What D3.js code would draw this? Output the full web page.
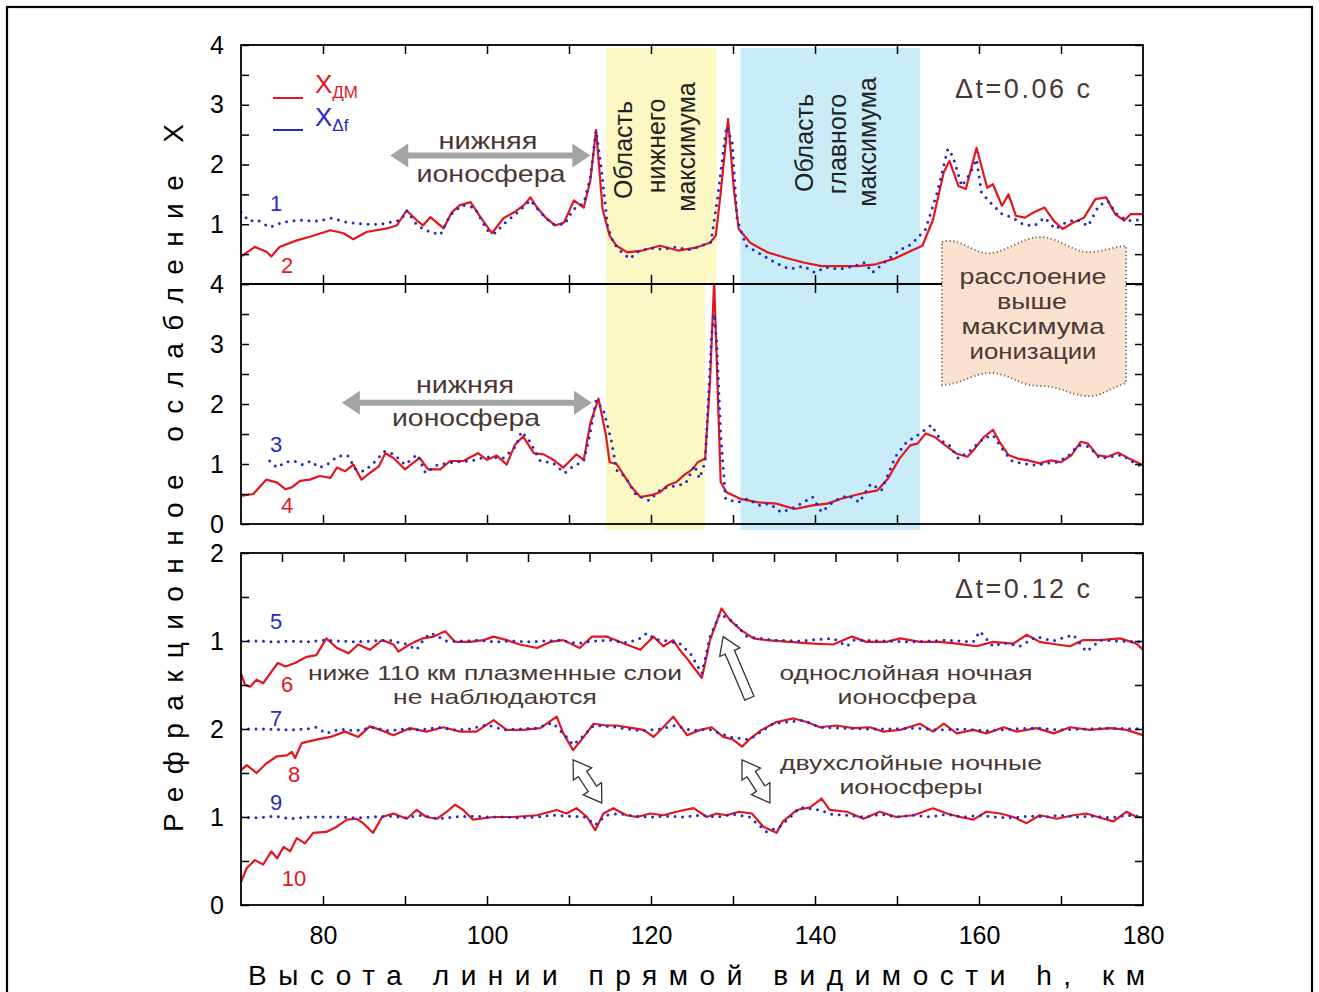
<!DOCTYPE html>
<html lang="ru">
<head>
<meta charset="utf-8">
<title>Рефракционное ослабление X</title>
<script src="https://d3js.org/d3.v7.min.js"></script>
<style>
  body { margin: 0; background: #fff; }
  text { font-family: "Liberation Sans", Arial, sans-serif; }
</style>
</head>
<body>
<div id="chart"></div>
<script>
// ---- data (h in km, X) ----
// top panel, dt = 0.06 s
var curve1 = [[70,1.2],[71,1.05],[72,1.07],[73.5,0.95],[75,1.03],[77,1.07],[79,1.05],[81,1.1],[83,1.03],[85,1.0],[87,1.0],[88,1.03],[89.5,1.07],[90.2,1.23],[91.5,0.98],[92.5,0.9],[94.3,0.82],[95.5,1.15],[97,1.32],[98.5,1.28],[100,0.9],[101,0.85],[102,1.0],[104,1.23],[105.3,1.4],[106.5,1.2],[108,1.0],[109.5,1.0],[110.5,1.25],[111.8,1.35],[112.6,1.78],[113.3,2.57],[113.9,1.98],[114.7,0.97],[115.4,0.69],[116.3,0.55],[117.4,0.42],[118.5,0.55],[120,0.6],[121.5,0.58],[123,0.62],[124.5,0.57],[126,0.63],[127.3,0.7],[128.1,1.42],[129.2,2.64],[129.9,2.37],[130.5,1.08],[131.6,0.64],[133.4,0.5],[135.1,0.36],[136.9,0.25],[138.6,0.3],[140,0.19],[141.3,0.28],[143,0.25],[144.8,0.3],[146.1,0.36],[147,0.19],[148.7,0.39],[150.5,0.58],[151.8,0.67],[153.5,0.92],[154.9,1.53],[156.2,2.26],[156.8,2.14],[157.9,1.64],[159,1.87],[159.7,2.09],[160.3,1.53],[161.4,1.36],[162.8,1.17],[164.1,1.11],[165.4,1.0],[166.7,0.97],[168,1.11],[169.3,0.92],[170.6,1.03],[171.9,1.08],[173.3,0.97],[174.6,1.31],[175.7,1.39],[176.8,1.17],[178.1,1.06],[180,1.08]];
var curve2 = [[70,0.46],[71.7,0.62],[73.1,0.54],[73.7,0.46],[74.7,0.62],[76.8,0.73],[78.4,0.79],[80.9,0.9],[82.5,0.85],[83.7,0.75],[85.3,0.87],[87.8,0.93],[89,0.98],[90.2,1.23],[91.4,1.07],[92.2,0.98],[93.1,1.12],[94.7,0.93],[95.7,1.2],[96.7,1.32],[98,1.37],[99.2,1.12],[100.6,0.85],[102,1.1],[103.3,1.2],[104.5,1.32],[105.3,1.45],[106.1,1.28],[107.1,1.12],[108.3,0.98],[109.4,1.03],[110.6,1.4],[111.8,1.28],[112.6,1.73],[113.3,2.58],[114.1,1.25],[114.95,0.81],[115.8,0.64],[117.1,0.53],[118.9,0.56],[121.1,0.64],[123.3,0.56],[125.5,0.61],[127.2,0.69],[127.9,0.81],[128.5,1.53],[129.4,2.76],[130.1,1.59],[130.7,0.92],[132.1,0.69],[134.2,0.53],[136.4,0.44],[138.6,0.36],[140.8,0.3],[143,0.3],[145.2,0.3],[147.4,0.33],[149.6,0.42],[151.8,0.56],[153.1,0.64],[154.4,1.08],[155.7,1.87],[156.4,2.06],[157.5,1.64],[158.4,1.59],[159.7,2.28],[161,1.61],[161.7,1.67],[162.8,1.31],[163.6,1.5],[164.5,1.14],[165.6,1.11],[166.7,1.2],[168,1.28],[169.1,1.06],[170.2,0.92],[171.5,1.03],[172.8,1.11],[174.2,1.42],[175.5,1.45],[176.6,1.17],[177.7,1.06],[178.5,1.17],[180,1.17]];
// middle panel
var curve3 = [[73.5,1.05],[74.4,0.94],[75.4,1.03],[76.5,1.05],[77.5,0.99],[78.5,1.05],[79.5,0.94],[80.5,0.99],[81.8,1.13],[83,1.14],[84,0.91],[85,0.88],[86,0.99],[87.5,1.21],[88.7,1.16],[90,0.99],[91.5,1.16],[92.5,0.85],[94,0.99],[96,1.03],[98,1.05],[100,1.12],[102,1.1],[103.5,1.29],[104.2,1.54],[105.2,1.38],[106.5,1.05],[108,1.02],[109.5,0.85],[110.5,0.96],[111.8,1.05],[112.5,1.46],[113.3,2.06],[114.2,1.9],[115.2,1.37],[115.8,0.9],[116.9,0.78],[118.2,0.48],[119.8,0.39],[121.3,0.59],[123.1,0.64],[124.2,0.67],[125.3,0.98],[125.9,0.76],[126.6,1.03],[127.4,3.16],[127.7,3.5],[128,3.05],[128.5,1.48],[129.1,0.42],[130.5,0.36],[131.8,0.42],[133.1,0.31],[134.5,0.34],[135.8,0.2],[137.1,0.25],[138.4,0.35],[139.7,0.45],[140.8,0.2],[142.4,0.39],[144.1,0.48],[145.4,0.36],[146.8,0.67],[148.1,0.56],[149.8,1.12],[151.2,1.37],[152.5,1.48],[154.2,1.65],[155.3,1.4],[156.4,1.31],[157.5,1.09],[159,1.23],[160.6,1.43],[161.7,1.48],[162.8,1.26],[163.9,1.06],[165.2,1.01],[167,0.98],[168.2,1.01],[169.5,1.03],[170.8,1.12],[172.1,1.31],[173.4,1.29],[174.8,1.09],[176.1,1.12],[177.4,1.15],[178.8,1.03],[180,0.95]];
var curve4 = [[70,0.47],[71.5,0.5],[73.1,0.74],[74.4,0.69],[75.4,0.58],[76.2,0.61],[77.2,0.72],[78.4,0.74],[79.6,0.8],[80.9,0.77],[81.7,0.94],[82.7,0.88],[83.7,0.99],[84.7,0.74],[85.7,0.85],[86.8,0.96],[87.6,1.18],[88.6,1.1],[90,0.91],[91,1.02],[91.8,1.1],[92.8,0.91],[94.3,0.91],[95.5,1.05],[97.1,1.05],[98.9,1.18],[100,1.07],[101.2,1.14],[102.4,0.99],[103.4,1.32],[104.4,1.46],[105.7,1.18],[106.9,1.16],[108.1,1.07],[109.3,0.94],[110.1,1.05],[110.9,1.16],[111.8,1.07],[112.6,1.68],[113.6,2.09],[114.5,1.48],[114.95,1.03],[115.8,1.0],[116.7,0.81],[117.6,0.62],[118.7,0.45],[120,0.48],[121.1,0.53],[122,0.64],[123.1,0.7],[124,0.81],[125.1,0.92],[125.7,1.03],[126.6,1.09],[127.2,2.38],[127.7,4.05],[128.1,2.38],[128.5,0.7],[129.2,0.53],[130.9,0.42],[133.1,0.36],[135.3,0.34],[137.5,0.25],[139.7,0.31],[141.5,0.34],[143.2,0.42],[145.4,0.5],[147.6,0.56],[148.9,0.76],[150.3,1.09],[151.6,1.31],[152.5,1.34],[153.5,1.51],[154.6,1.45],[155.9,1.31],[157.3,1.17],[158.6,1.12],[159.5,1.26],[160.6,1.45],[161.7,1.57],[162.5,1.37],[163.6,1.15],[164.7,1.09],[166,1.06],[167.4,1.01],[168.7,1.06],[170,1.03],[171.3,1.15],[172.4,1.37],[173.3,1.34],[174.4,1.15],[175.7,1.12],[177,1.19],[178.3,1.09],[180,0.98]];
// bottom panel, dt = 0.12 s (curves shifted by +2 and +1)
var curve5 = [[70,3.0],[72,3.0],[74,2.99],[76,3.0],[78,2.99],[80,3.01],[82,3.0],[84,2.99],[86,3.0],[88,3.01],[90,2.97],[91.4,2.9],[92.3,3.02],[93.1,3.09],[93.9,3.06],[95,3.0],[97,3.0],[99,3.01],[101,2.99],[103,3.0],[105,2.99],[107,3.0],[109,3.01],[111,2.97],[113,3.0],[115,3.01],[117,2.98],[118.5,3.02],[119.5,3.09],[120.5,3.02],[122,3.0],[123.5,2.97],[124.8,2.86],[126.2,2.63],[127.2,3.05],[128.4,3.31],[130,3.22],[131.7,3.05],[134.9,3.01],[138,3.0],[142.2,3.03],[143.9,2.94],[144.7,3.01],[148,3.0],[152,2.99],[156.1,3.01],[159.3,2.99],[160.1,3.11],[161.7,2.94],[163,2.98],[165,2.94],[167,3.05],[169,3.0],[171.5,3.07],[172.5,2.95],[173.1,2.88],[174.8,3.01],[177,3.0],[180,2.99]];
var curve6 = [[70,2.63],[70.5,2.5],[71.1,2.48],[71.9,2.56],[72.7,2.52],[73.7,2.65],[74.5,2.75],[75.4,2.71],[76.6,2.75],[78,2.82],[79.2,2.84],[80.4,3.03],[81.7,2.92],[83.1,2.86],[84.3,2.96],[85.7,2.9],[87.2,3.01],[88.6,2.96],[89.2,2.88],[90.2,2.94],[91.2,2.99],[92.2,3.03],[93.5,3.05],[94.9,3.11],[96.1,2.99],[97.9,2.99],[99.6,3.01],[100.8,3.05],[102.4,3.01],[104,2.96],[106.1,2.92],[107.7,2.99],[109.3,3.01],[111.3,2.92],[112.8,3.05],[114.6,3.05],[117,2.96],[118.7,2.9],[120.3,3.05],[121.5,2.94],[122.7,3.01],[123.5,2.9],[124.4,2.8],[124.8,2.75],[126.2,2.58],[127.2,3.01],[128.6,3.37],[129.6,3.24],[130.9,3.13],[132.5,3.03],[134.1,3.01],[136.9,2.99],[139.8,2.97],[142.2,2.96],[144.5,3.05],[146.3,2.99],[148.7,2.99],[150.4,3.03],[152.8,2.99],[155.2,2.99],[157.3,2.97],[159.7,2.94],[161.7,2.99],[164.2,2.97],[165.8,3.07],[167.4,2.99],[169.5,2.96],[171.1,2.94],[172.7,3.01],[174.8,3.01],[177.2,3.03],[179.2,2.97],[180,2.9]];
var curve7 = [[70,2.0],[73,2.0],[76,1.99],[78,2.0],[79.2,2.02],[80.4,1.95],[82,2.0],[84,1.98],[86,2.02],[88,1.98],[90,2.0],[92,1.99],[94,2.02],[96,1.99],[98,2.0],[100,2.05],[102,1.99],[104,2.0],[106,2.01],[108,2.07],[109.7,1.91],[110.5,1.82],[111.5,1.9],[113,2.04],[115,2.03],[117,2.0],[119,1.98],[121,2.0],[123,2.04],[125,1.98],[127,2.0],[129.6,1.91],[132,1.88],[134.9,2.06],[136.5,2.08],[138.6,2.1],[140.5,2.02],[143,2.01],[146,2.0],[149,2.0],[152,2.01],[155,1.99],[158,2.0],[161,1.98],[164,2.0],[167,2.01],[170,1.99],[173,2.0],[176,2.01],[180,2.0]];
var curve8 = [[70,1.53],[70.7,1.59],[71.9,1.5],[73.1,1.61],[74.4,1.69],[75.6,1.7],[76.2,1.74],[76.6,1.67],[77.4,1.84],[79.2,1.88],[80.9,1.91],[82.7,1.97],[84.3,1.91],[85.7,2.03],[87,1.99],[88.6,1.93],[90.6,2.01],[92.6,1.97],[94.7,2.02],[96.7,1.97],[98.7,1.97],[100.8,2.1],[102.4,1.99],[104.4,1.99],[106.5,2.01],[108.5,2.14],[109.3,1.95],[110.5,1.76],[111.8,1.91],[113,2.06],[114.6,2.04],[115.8,2.04],[117.8,2.01],[119.1,1.99],[120.3,1.91],[121.5,2.02],[122.7,2.14],[124.4,1.93],[126,1.99],[127.4,2.02],[128.8,1.91],[130,1.88],[131.1,1.8],[132.1,1.89],[133.5,1.99],[135.3,2.08],[137.4,2.12],[139,2.08],[140.6,2.02],[142.6,2.04],[144.7,2.01],[146.7,2.02],[148.3,1.97],[150.4,1.99],[152.8,2.06],[154.4,1.97],[155.7,2.06],[157.3,1.95],[159.3,1.99],[160.9,1.95],[163,2.02],[164.6,1.97],[167,2.01],[169.1,1.95],[171.1,2.02],[173.5,1.99],[176,2.01],[178,1.99],[180,1.93]];
var curve9 = [[70,1.0],[72,0.99],[74,1.01],[76,0.98],[78,1.0],[80,1.0],[82,1.0],[84,0.99],[86,1.0],[88,1.01],[90,0.99],[92,1.02],[94,0.98],[96,1.0],[98,1.01],[100,1.0],[102,1.0],[104,0.99],[106,1.0],[108,1.02],[110,1.01],[112,1.0],[113.2,0.91],[114.5,1.02],[116,1.04],[118,1.01],[120,1.0],[122,1.01],[124,1.0],[126,1.02],[128,1.0],[130,1.03],[132,1.0],[134.1,0.83],[135.7,0.89],[137,1.0],[138.2,1.11],[140.6,1.08],[142,1.03],[144,1.02],[146,1.0],[148,1.03],[150,1.0],[152,1.02],[154,1.0],[156,1.03],[158,1.0],[160,1.02],[162,1.0],[164,0.99],[166,1.01],[168,1.0],[170,1.02],[172,1.0],[174,1.01],[176,0.99],[178,1.02],[180,1.0]];
var curve10 = [[70,0.26],[70.7,0.42],[71.7,0.51],[72.7,0.46],[73.7,0.61],[74.4,0.53],[75.2,0.66],[76,0.61],[76.8,0.76],[77.8,0.7],[78.8,0.82],[80.4,0.83],[81.7,0.89],[82.9,0.97],[84.1,0.98],[84.9,0.93],[86.1,0.82],[87.2,1.0],[88.6,1.04],[90.2,0.98],[91.4,1.08],[92.6,1.0],[93.9,0.98],[95.1,1.06],[96.1,1.14],[97.1,1.08],[98.3,0.97],[100.8,1.0],[103.2,1.0],[106.1,1.02],[108.5,1.08],[109.7,1.04],[110.9,1.1],[112.2,1.0],[113.2,0.85],[114.2,1.04],[115.4,1.1],[117,1.02],[118.3,1.0],[119.9,1.04],[121.5,1.02],[123.1,1.06],[125.2,1.1],[126.8,1.0],[128,1.04],[129.2,1.02],[130.7,1.06],[132.3,1.04],[133.7,0.89],[135.3,0.82],[136.1,0.95],[137.8,1.08],[139.4,1.11],[140.8,1.21],[141.8,1.08],[143.9,1.06],[145.9,0.98],[147.9,1.06],[149.9,1.0],[152,1.02],[154.4,1.1],[156.1,1.04],[157.7,1.0],[159.3,0.97],[160.9,1.06],[162.6,1.04],[164.2,1.0],[165.8,0.93],[167.4,1.02],[169.5,0.98],[171.5,1.02],[173.1,1.04],[175.2,0.98],[176.4,0.95],[178,1.06],[179.2,1.0],[180,1.0]];

// shaded regions [h start, h end]
var lowerMaxTop = [114.5, 128.0];
var lowerMaxMid = [114.5, 126.6];
var mainMax = [130.9, 152.8];

// ticks
var xLabelTicks = [80, 100, 120, 140, 160, 180];
var xMinorTicks = [80, 90, 100, 110, 120, 130, 140, 150, 160, 170];
var xTopTicksBot = [75, 82.5, 90, 97.5, 105, 112.5, 120, 127.5, 135, 142.5, 150, 157.5, 165, 172.5];
var yMajor = [0, 1, 2, 3, 4];
var yMinor = [0.5, 1.5, 2.5, 3.5];
var topLabels = ["", "1", "2", "3", "4"];
var midLabels = ["0", "1", "2", "3", "4"];
var botLabels = ["0", "1", "2", "1", "2"];

var W = 1319, H = 992;
var RED = "#e3161f", BLUE = "#2a2ac4", INK = "#4b3731";

var svg = d3.select("#chart").append("svg")
    .attr("width", W)
    .attr("height", H);

svg.append("rect").attr("width", W).attr("height", H).attr("fill", "#fff");

// outer frame
svg.append("rect")
    .attr("x", 7).attr("y", 7)
    .attr("width", 1305).attr("height", 1000)
    .attr("fill", "none").attr("stroke", "#000").attr("stroke-width", 2.2);

var xScale = d3.scaleLinear().domain([70, 180]).range([241, 1143]);
var yTop = d3.scaleLinear().domain([0, 4]).range([284, 45]);
var yMid = d3.scaleLinear().domain([0, 4]).range([524, 284]);
var yBot = d3.scaleLinear().domain([0, 4]).range([905, 553]);

// clip paths for each panel
var defs = svg.append("defs");
[["clipTop", yTop], ["clipMid", yMid], ["clipBot", yBot]].forEach(function (c) {
    defs.append("clipPath").attr("id", c[0]).append("rect")
        .attr("x", xScale(70)).attr("y", c[1](4) - 1)
        .attr("width", xScale(180) - xScale(70))
        .attr("height", c[1](0) - c[1](4) + 2);
});

// shaded bands
function band(range, yTopPx, yBotPx, color) {
    svg.append("rect")
        .attr("x", xScale(range[0]))
        .attr("y", yTopPx)
        .attr("width", xScale(range[1]) - xScale(range[0]))
        .attr("height", yBotPx - yTopPx)
        .attr("fill", color);
}
band(lowerMaxTop, yTop(3.95), yTop(0), "#fcf8c3");
band(mainMax, yTop(3.95), yTop(0), "#c9ecf9");
band(lowerMaxMid, yMid(4), yMid(-0.1), "#fcf8c3");
band(mainMax, yMid(4), yMid(-0.1), "#c9ecf9");

// curves
function redLine(data, y, clip) {
    var line = d3.line().x(function (d) { return xScale(d[0]); }).y(function (d) { return y(d[1]); });
    svg.append("path").datum(data)
        .attr("clip-path", "url(#" + clip + ")")
        .attr("d", line)
        .attr("fill", "none")
        .attr("stroke", RED)
        .attr("stroke-width", 2.2)
        .attr("stroke-linejoin", "round");
}
function blueDots(data, y, clip) {
    var line = d3.line().x(function (d) { return xScale(d[0]); }).y(function (d) { return y(d[1]); });
    svg.append("path").datum(data)
        .attr("clip-path", "url(#" + clip + ")")
        .attr("d", line)
        .attr("fill", "none")
        .attr("stroke", BLUE)
        .attr("stroke-width", 3)
        .attr("stroke-linecap", "round")
        .attr("stroke-dasharray", "0,7.5");
}
redLine(curve2, yTop, "clipTop"); blueDots(curve1, yTop, "clipTop");
redLine(curve4, yMid, "clipMid"); blueDots(curve3, yMid, "clipMid");
redLine(curve6, yBot, "clipBot"); blueDots(curve5, yBot, "clipBot");
redLine(curve8, yBot, "clipBot"); blueDots(curve7, yBot, "clipBot");
redLine(curve10, yBot, "clipBot"); blueDots(curve9, yBot, "clipBot");

// axes
function noDomain(g) { g.select(".domain").remove(); }
function styleTicks(g) {
    g.selectAll(".tick line").attr("stroke", "#000").attr("stroke-width", 1.5);
    g.selectAll(".tick text")
        .attr("fill", "#000")
        .style("font-family", "'Liberation Sans', Arial, sans-serif")
        .style("font-size", "25px");
}
function panelAxes(y, labels, topTicks, showBottomLabels) {
    var top = y.range()[1], bottom = y.range()[0];
    svg.append("g").attr("transform", "translate(" + xScale(70) + ",0)")
        .call(d3.axisLeft(y).tickValues(yMajor).tickSize(-8).tickPadding(17)
            .tickFormat(function (d, i) { return labels[i]; }))
        .call(noDomain).call(styleTicks);
    svg.append("g").attr("transform", "translate(" + xScale(70) + ",0)")
        .call(d3.axisLeft(y).tickValues(yMinor).tickSize(-8).tickFormat(""))
        .call(noDomain).call(styleTicks);
    svg.append("g").attr("transform", "translate(" + xScale(180) + ",0)")
        .call(d3.axisRight(y).tickValues(yMajor.concat(yMinor)).tickSize(-8).tickFormat(""))
        .call(noDomain).call(styleTicks);
    svg.append("g").attr("transform", "translate(0," + top + ")")
        .call(d3.axisTop(xScale).tickValues(topTicks).tickSize(-9).tickFormat(""))
        .call(noDomain).call(styleTicks);
    svg.append("g").attr("transform", "translate(0," + bottom + ")")
        .call(d3.axisBottom(xScale).tickValues(xMinorTicks).tickSize(-9).tickFormat(""))
        .call(noDomain).call(styleTicks);
    if (showBottomLabels) {
        svg.append("g").attr("transform", "translate(0," + bottom + ")")
            .call(d3.axisBottom(xScale).tickValues(xLabelTicks).tickSize(0).tickPadding(21)
                .tickFormat(d3.format("d")))
            .call(noDomain).call(styleTicks);
    }
    svg.append("rect")
        .attr("x", xScale(70)).attr("y", top)
        .attr("width", xScale(180) - xScale(70)).attr("height", bottom - top)
        .attr("fill", "none").attr("stroke", "#000").attr("stroke-width", 1.8);
}
panelAxes(yTop, topLabels, xMinorTicks, false);
panelAxes(yMid, midLabels, xMinorTicks, false);
panelAxes(yBot, botLabels, xTopTicksBot, true);

// axis titles
svg.append("text")
    .attr("x", 248).attr("y", 985)
    .attr("textLength", 897).attr("lengthAdjust", "spacing")
    .attr("font-size", 28).attr("fill", "#000")
    .text("Высота линии прямой видимости h, км");
svg.append("text")
    .attr("transform", "translate(183,832) rotate(-90)")
    .attr("textLength", 708).attr("lengthAdjust", "spacing")
    .attr("font-size", 28).attr("fill", "#000")
    .text("Рефракционное ослабление X");

// legend
svg.append("line").attr("x1", 273).attr("x2", 303).attr("y1", 98).attr("y2", 98)
    .attr("stroke", RED).attr("stroke-width", 2);
svg.append("line").attr("x1", 273).attr("x2", 303).attr("y1", 130).attr("y2", 130)
    .attr("stroke", BLUE).attr("stroke-width", 2);
var lg1 = svg.append("text").attr("x", 315).attr("y", 93).attr("font-size", 26).attr("fill", RED);
lg1.append("tspan").text("X");
lg1.append("tspan").attr("dy", 5).attr("font-size", 17).text("ДМ");
var lg2 = svg.append("text").attr("x", 315).attr("y", 126).attr("font-size", 26).attr("fill", BLUE);
lg2.append("tspan").text("X");
lg2.append("tspan").attr("dy", 5).attr("font-size", 17).text("Δf");

// curve numbers
var numLabels = [
    ["1", 276, 211, BLUE], ["2", 287, 273, RED],
    ["3", 276, 452, BLUE], ["4", 287, 513, RED],
    ["5", 276, 629, BLUE], ["6", 287, 692, RED],
    ["7", 276, 726, BLUE], ["8", 294, 782, RED],
    ["9", 276, 810, BLUE], ["10", 294, 886, RED]
];
numLabels.forEach(function (n) {
    svg.append("text").attr("x", n[1]).attr("y", n[2])
        .attr("text-anchor", "middle").attr("font-size", 22).attr("fill", n[3]).text(n[0]);
});

// dt labels
svg.append("text").attr("x", 955).attr("y", 98).attr("font-size", 27).attr("fill", INK)
    .attr("textLength", 135).attr("lengthAdjust", "spacing").text("Δt=0.06 с");
svg.append("text").attr("x", 955).attr("y", 598).attr("font-size", 27).attr("fill", INK)
    .attr("textLength", 135).attr("lengthAdjust", "spacing").text("Δt=0.12 с");

// rotated region labels
function vText(str, bx, cy) {
    svg.append("text")
        .attr("transform", "translate(" + bx + "," + cy + ") rotate(-90)")
        .attr("text-anchor", "middle").attr("font-size", 25).attr("fill", "#222")
        .text(str);
}
vText("Область", 632, 150);
vText("нижнего", 665, 146);
vText("максимума", 695, 147);
vText("Область", 813, 143);
vText("главного", 846, 144);
vText("максимума", 876, 142);

// gray double arrows
function grayArrow(h1, h2, yPx) {
    var x1 = xScale(h1), x2 = xScale(h2), hl = 18, hw = 12;
    svg.append("line").attr("x1", x1 + hl - 2).attr("x2", x2 - hl + 2)
        .attr("y1", yPx).attr("y2", yPx)
        .attr("stroke", "#a4a4a4").attr("stroke-width", 6);
    svg.append("path")
        .attr("d", "M" + x1 + "," + yPx + "L" + (x1 + hl) + "," + (yPx - hw) + "L" + (x1 + hl) + "," + (yPx + hw) + "Z"
            + "M" + x2 + "," + yPx + "L" + (x2 - hl) + "," + (yPx - hw) + "L" + (x2 - hl) + "," + (yPx + hw) + "Z")
        .attr("fill", "#a4a4a4");
}
grayArrow(88.2, 112.6, yTop(2.15));
grayArrow(82.3, 112.8, yMid(2.02));

function label(str, cx, by, len, size) {
    var t = svg.append("text").attr("x", cx).attr("y", by)
        .attr("text-anchor", "middle").attr("font-size", size || 24).attr("fill", INK).text(str);
    if (len) t.attr("textLength", len).attr("lengthAdjust", "spacingAndGlyphs");
}
label("нижняя", 488, 149, 99);
label("ионосфера", 491, 182, 149);
label("нижняя", 465, 393, 98);
label("ионосфера", 466, 426, 148);
label("ниже 110 км плазменные слои", 495, 680, 374, 21);
label("не наблюдаются", 495, 704, 204, 21);
label("однослойная ночная", 906, 680, 253, 21);
label("ионосфера", 907, 704, 139, 21);
label("двухслойные ночные", 911, 770, 262, 21);
label("ионосферы", 911, 794, 143, 21);

// hollow arrows in bottom panel
function hollowArrow(h1, v1, h2, v2, both) {
    var x1 = xScale(h1), y1 = yBot(v1), x2 = xScale(h2), y2 = yBot(v2);
    var L = Math.hypot(x2 - x1, y2 - y1), a = Math.atan2(y2 - y1, x2 - x1) * 180 / Math.PI;
    var w = 5, hw = 11, hl = 17, pts;
    if (both) {
        pts = [[0, 0], [hl, -hw], [hl, -w], [L - hl, -w], [L - hl, -hw], [L, 0], [L - hl, hw], [L - hl, w], [hl, w], [hl, hw]];
    } else {
        pts = [[0, -w], [L - hl, -w], [L - hl, -hw], [L, 0], [L - hl, hw], [L - hl, w], [0, w]];
    }
    svg.append("path")
        .attr("transform", "translate(" + x1 + "," + y1 + ") rotate(" + a + ")")
        .attr("d", "M" + pts.map(function (p) { return p.join(","); }).join("L") + "Z")
        .attr("fill", "#fff").attr("stroke", "#333").attr("stroke-width", 1.3);
}
hollowArrow(132.0, 2.35, 128.8, 3.05, false);
hollowArrow(110.5, 1.65, 114.0, 1.16, true);
hollowArrow(131.1, 1.65, 134.5, 1.16, true);

// peach box
var bx0 = 942, bx1 = 1126;
var boxPath = "M" + bx0 + ",242"
    + "C960,236 975,256 992,253"
    + "C1010,250 1025,236 1042,237"
    + "C1060,238 1075,254 1092,252"
    + "C1105,251 1116,246 " + bx1 + ",246"
    + "L" + bx1 + ",383"
    + "C1110,388 1100,398 1085,396"
    + "C1065,393 1060,386 1040,386"
    + "C1020,386 1010,374 992,373"
    + "C975,372 960,385 " + bx0 + ",385Z";
svg.append("path").attr("d", boxPath)
    .attr("fill", "#fbe2d0")
    .attr("stroke", "#7a6a66").attr("stroke-width", 2)
    .attr("stroke-dasharray", "1.2,2.6");
label("расслоение", 1033, 284, 147, 22);
label("выше", 1032, 309, 70, 22);
label("максимума", 1033, 334, 143, 22);
label("ионизации", 1033, 359, 127, 22);
</script>
</body>
</html>
